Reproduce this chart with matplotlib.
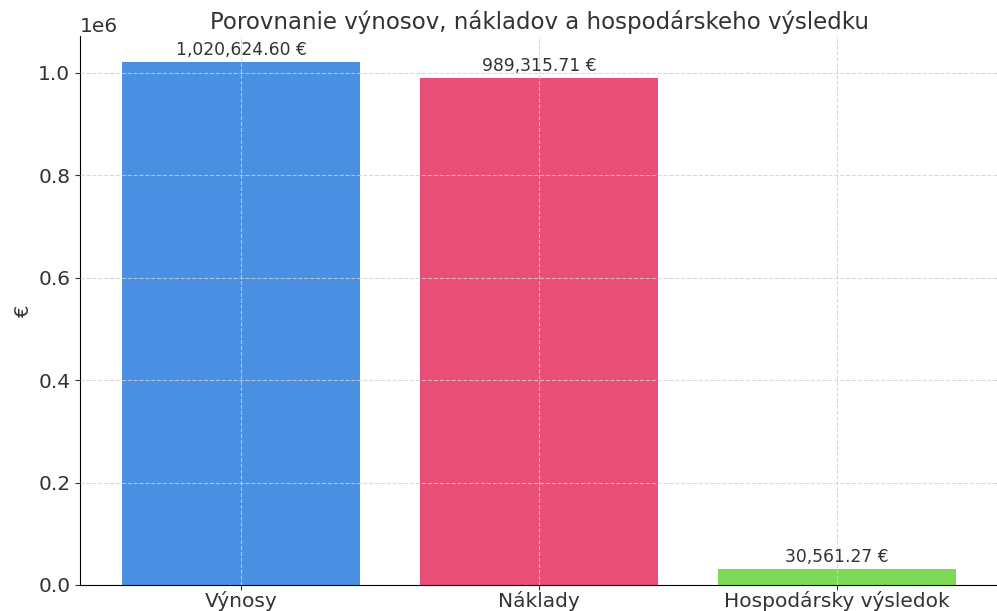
import matplotlib.pyplot as plt

categories = ['Výnosy', 'Náklady', 'Hospodársky výsledok']
values = [1020624.60, 989315.71, 30561.27]
colors = ['#4A90E2', '#E94E77', '#7ED957']

plt.rcParams['text.color'] = '#333333'
plt.rcParams['axes.labelcolor'] = '#333333'
plt.rcParams['xtick.color'] = '#333333'
plt.rcParams['ytick.color'] = '#333333'

fig = plt.figure(figsize=(9.97, 6.11), dpi=100)
ax = fig.add_axes([80 / 997, 26 / 611, 918 / 997, 549 / 611])

bars = ax.bar(categories, values, color=colors, width=0.8)

# value labels above bars
for bar, v in zip(bars, values):
    ax.text(bar.get_x() + bar.get_width() / 2, v + 6000,
            f'{v:,.2f} €', ha='center', va='bottom', fontsize=12.3)

ax.set_title('Porovnanie výnosov, nákladov a hospodárskeho výsledku', fontsize=16.5, pad=5)
ax.set_ylabel('€', fontsize=14)
ax.tick_params(axis='both', labelsize=14.5)
ax.tick_params(axis='x', pad=1)
ax.yaxis.get_offset_text().set_fontsize(14.5)
ax.grid(True, linestyle='--', color='#d0d0d0', alpha=0.8)
ax.set_axisbelow(False)
ax.spines['top'].set_visible(False)
ax.spines['right'].set_visible(False)

fig.savefig('out.png', dpi=100)
